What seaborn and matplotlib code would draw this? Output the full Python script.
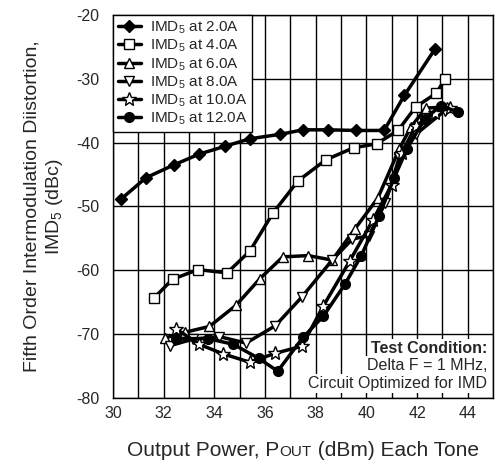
import matplotlib
matplotlib.use("Agg")
import matplotlib.pyplot as plt
from matplotlib.offsetbox import TextArea, HPacker, AnchoredOffsetbox
import seaborn as sns

sns.set_theme(style="white")
plt.rcParams['font.family'] = ['Liberation Sans', 'DejaVu Sans']
plt.rcParams['mathtext.fontset'] = 'custom'
plt.rcParams['mathtext.rm'] = 'Liberation Sans'

# data (Pout dBm, IMD5 dBc)
x_20 = [30.3, 31.3, 32.4, 33.4, 34.4, 35.4, 36.6, 37.5, 38.5, 39.6, 40.7, 41.5, 42.7]
y_20 = [-48.9, -45.5, -43.5, -41.8, -40.6, -39.4, -38.7, -38.0, -38.0, -38.1, -38.1, -32.6, -25.4]

x_40 = [31.6, 32.35, 33.35, 34.5, 35.4, 36.3, 37.3, 38.4, 39.5, 40.4, 41.25, 41.95, 42.75, 43.1]
y_40 = [-64.4, -61.4, -59.9, -60.4, -57.0, -51.1, -46.0, -42.7, -40.8, -40.2, -38.1, -34.4, -32.3, -30.1]

x_60 = [32.05, 32.85, 33.8, 34.85, 35.8, 36.7, 37.7, 38.65, 39.55, 40.45, 41.3, 41.75, 42.35, 43.2]
y_60 = [-70.6, -69.7, -68.8, -65.5, -61.3, -57.9, -57.7, -58.4, -53.5, -48.7, -41.0, -37.6, -34.6, -34.4]

x_80 = [32.25, 33.15, 34.2, 35.25, 36.4, 37.45, 38.65, 39.45, 40.1, 40.75, 41.3, 41.95, 43.1]
y_80 = [-71.8, -70.8, -70.4, -71.4, -68.7, -64.2, -58.4, -55.1, -54.6, -49.4, -42.3, -38.7, -35.0]

x_100 = [32.5, 33.4, 34.35, 35.4, 36.4, 37.45, 38.3, 39.35, 40.25, 41.0, 41.4, 41.95, 42.7, 43.3]
y_100 = [-69.2, -71.6, -73.1, -74.4, -73.0, -71.9, -65.6, -58.5, -52.2, -46.6, -41.6, -37.4, -35.3, -34.6]

x_120 = [32.5, 33.75, 34.75, 35.75, 36.5, 37.5, 38.3, 39.15, 39.8, 40.5, 41.1, 41.6, 42.3, 42.95, 43.6]
y_120 = [-70.7, -70.7, -71.6, -73.8, -75.8, -70.5, -67.2, -62.2, -57.7, -51.5, -45.5, -41.0, -36.3, -34.2, -35.2]

labels = ["2.0A", "4.0A", "6.0A", "8.0A", "10.0A", "12.0A"]
xticks = list(range(30, 46))
yticks = [-80, -70, -60, -50, -40, -30, -20]

series = [
    (x_20, y_20, "D", "black", 6),
    (x_40, y_40, "s", "white", 6.5),
    (x_60, y_60, "^", "white", 7.5),
    (x_80, y_80, "v", "white", 7.5),
    (x_100, y_100, "*", "white", 10.5),
    (x_120, y_120, "o", "black", 7),
]

fig = plt.figure(figsize=(4.96, 4.66), dpi=100)
ax = fig.add_axes([0.228, 0.146, 0.766, 0.822])

for (xs, ys, mk, fc, ms), lab in zip(series, labels):
    sns.lineplot(x=xs, y=ys, ax=ax, sort=False, color="black", lw=2.5,
                 marker=mk, markersize=ms, markerfacecolor=fc,
                 markeredgecolor="black", markeredgewidth=1.0,
                 label=r"IMD$_\mathregular{5}$ at " + lab, zorder=3)

ax.set_xlim(30, 45)
ax.set_ylim(-80, -20)
ax.set_xticks(xticks)
ax.set_xticklabels([str(t) if t % 2 == 0 and t < 45 else "" for t in xticks])
ax.set_yticks(yticks)
ax.set_yticklabels([str(t) for t in yticks])
ax.grid(True, color="black", lw=1.0)
ax.tick_params(axis="x", direction="in", length=4, width=1, color="black",
               labelsize=11.5, pad=6, top=False)
ax.tick_params(axis="y", direction="in", length=0, labelsize=11.5, pad=10)
for s in ax.spines.values():
    s.set_color("black")
    s.set_linewidth(1.0)

ax.set_ylabel("Fifth Order Intermodulation Diistortion,\n" + r"IMD$_\mathregular{5}$ (dBc)",
              fontsize=14, labelpad=8, linespacing=1.25)

parts = [TextArea("Output Power, P", textprops=dict(size=15)),
         TextArea("OUT", textprops=dict(size=11)),
         TextArea(" (dBm) Each Tone", textprops=dict(size=15))]
box = HPacker(children=parts, align="baseline", pad=0, sep=0)
ab = AnchoredOffsetbox(loc="center", child=box, frameon=False,
                       bbox_to_anchor=(0.5, -0.138), bbox_transform=ax.transAxes,
                       borderpad=0)
ax.add_artist(ab)

leg = ax.legend(loc="upper left", borderaxespad=0, fontsize=11, fancybox=False,
                framealpha=1, edgecolor="black", handlelength=1.5,
                handletextpad=0.6, labelspacing=0.1, borderpad=0.3)
leg.get_frame().set_linewidth(1.0)
leg.set_zorder(5)

tb = dict(facecolor="white", edgecolor="none", pad=1.5)
ax.text(0.985, 0.13, "Test Condition:", transform=ax.transAxes, ha="right",
        va="center", fontsize=11.5, fontweight="bold", bbox=tb, zorder=4)
ax.text(0.985, 0.084, "Delta F = 1 MHz,", transform=ax.transAxes, ha="right",
        va="center", fontsize=11.5, bbox=tb, zorder=4)
ax.text(0.985, 0.037, "Circuit Optimized for IMD", transform=ax.transAxes, ha="right",
        va="center", fontsize=11.5, bbox=tb, zorder=4)

fig.savefig("out.png", dpi=100)
